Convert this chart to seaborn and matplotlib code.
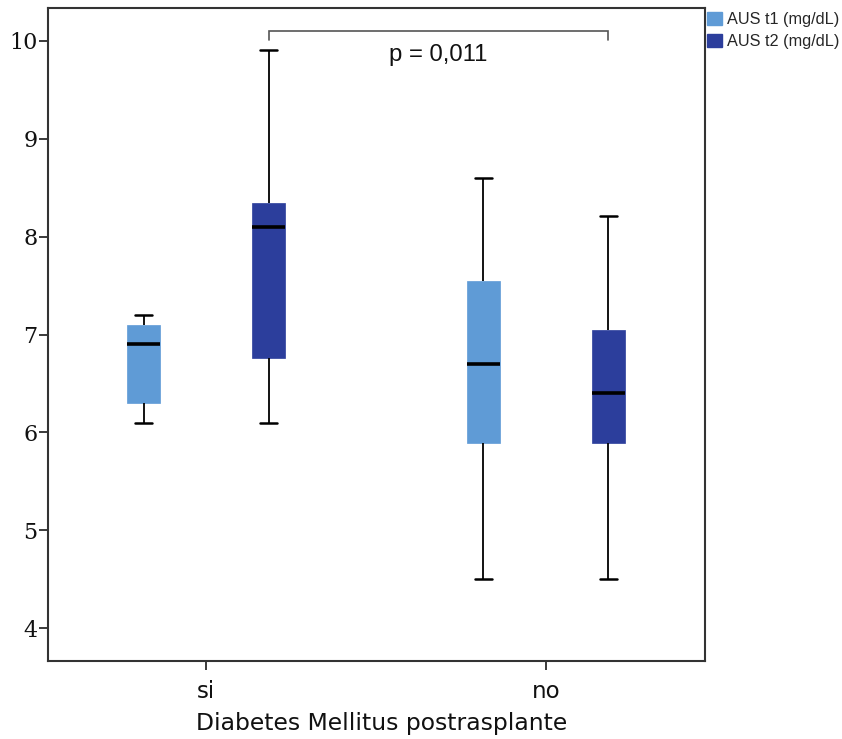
import numpy as np
import pandas as pd
import seaborn as sns
import matplotlib
matplotlib.use("Agg")
import matplotlib.pyplot as plt
from matplotlib.patches import Patch

# ---- data ----
groups = ["si", "no"]
series = ["AUS t1 (mg/dL)", "AUS t2 (mg/dL)"]
# five-number summaries: whisker low, Q1, median, Q3, whisker high
si_t1 = [6.10, 6.30, 6.90, 7.10, 7.20]
si_t2 = [6.10, 6.76, 8.10, 8.34, 9.91]
no_t1 = [4.50, 5.89, 6.70, 7.55, 8.60]
no_t2 = [4.50, 5.89, 6.40, 7.05, 8.21]
y_ticks = [4, 5, 6, 7, 8, 9, 10]
p_label = "p = 0,011"
x_label = "Diabetes Mellitus postrasplante"
colors = ["#5f9bd6", "#2c3e9c"]

rows = []
for g, s, vals in [("si", series[0], si_t1), ("si", series[1], si_t2),
                   ("no", series[0], no_t1), ("no", series[1], no_t2)]:
    for v in vals:
        rows.append({"group": g, "series": s, "value": v})
df = pd.DataFrame(rows)

sns.set_style("white")
plt.rcParams["font.family"] = ["DejaVu Sans"]

fig = plt.figure(figsize=(8.42, 7.39), dpi=100)
ax = fig.add_axes([48 / 842, 78 / 739, 657 / 842, 653 / 739])

box_width = 0.736
box_gap = 0.735
sns.boxplot(data=df, x="group", y="value", hue="series", order=groups,
            hue_order=series, palette=colors, saturation=1,
            width=box_width, gap=box_gap, whis=np.inf,
            linecolor="black", linewidth=1.3,
            medianprops=dict(linewidth=2.6, color="black", solid_capstyle="butt"),
            capprops=dict(linewidth=1.8, color="black"),
            whiskerprops=dict(linewidth=1.3, color="black"),
            legend=False, ax=ax)

for patch in ax.patches:
    patch.set_edgecolor(patch.get_facecolor())
    patch.set_linewidth(0.5)

ax.set_xlim(-0.465, 1.468)
ax.set_ylim(3.663, 10.337)
ax.set_yticks(y_ticks)
ax.set_yticklabels([str(t) for t in y_ticks], fontsize=16, family=["DejaVu Serif"],
                   color="#111111")
ax.set_xticks(range(len(groups)))
ax.set_xticklabels(groups, fontsize=16.5, family=["DejaVu Sans"], color="#111111")
ax.set_xlabel(x_label, fontsize=16.9, family=["DejaVu Sans"], color="#111111")
ax.xaxis.set_label_coords(0.508, -0.078)
ax.set_ylabel("")
ax.tick_params(axis="both", which="both", length=6.5, width=1.4, color="#3a3a3a",
               direction="out", left=True, bottom=True, top=False, right=False)
ax.tick_params(axis="y", pad=1.0)
ax.tick_params(axis="x", pad=7.5)
for sp in ax.spines.values():
    sp.set_visible(True)
    sp.set_color("#333333")
    sp.set_linewidth(1.5)

# significance bracket between the two t2 boxes
off = box_width / 4
x_left = 0 + off
x_right = 1 + off
y_top = 10.105
y_drop = 10.01
ax.plot([x_left, x_left, x_right, x_right], [y_drop, y_top, y_top, y_drop],
        color="#555555", linewidth=1.2, solid_joinstyle="miter")
ax.text((x_left + x_right) / 2, 9.86, p_label, ha="center", va="center",
        fontsize=17.2, family=["Liberation Sans"], color="#111111")

handles = [Patch(facecolor=c, edgecolor=c) for c in colors]
fig.legend(handles, series, loc="upper left", bbox_to_anchor=(707 / 842, 1 - 12 / 739),
           frameon=False, borderaxespad=0, borderpad=0, handlelength=0.9,
           handleheight=0.9, handletextpad=0.35, labelspacing=0.38,
           prop={"family": "Liberation Sans", "size": 11.7})

fig.savefig("out.png", dpi=100)
